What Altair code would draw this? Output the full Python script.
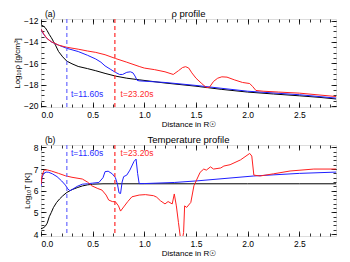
import altair as alt
import pandas as pd

FONT = "Liberation Sans"

# ---------------- density panel (a) ----------------
rho_black_x = [0, 0.02, 0.04, 0.06, 0.08, 0.1, 0.12, 0.14, 0.17, 0.21, 0.25, 0.3, 0.36, 0.45, 0.53,
               0.62, 0.72, 0.83, 0.95, 1.2, 1.5, 1.75, 2.0, 2.25, 2.5, 2.7, 2.86]
rho_black_y = [-12.4, -12.5, -12.65, -12.95, -13.3, -13.6, -13.95, -14.3, -14.9, -15.4, -15.8, -16.05,
               -16.3, -16.5, -16.7, -16.95, -17.2, -17.4, -17.55, -17.85, -18.15, -18.45, -18.7,
               -18.88, -19.05, -19.2, -19.35]

rho_blue_x = [0, 0.02, 0.05, 0.1, 0.17, 0.25, 0.36, 0.45, 0.53, 0.58, 0.62, 0.67, 0.72, 0.76, 0.79,
              0.83, 0.865, 0.89, 0.91, 0.93, 0.95, 1.2, 1.5, 2.0, 2.5, 2.86]
rho_blue_y = [-12.8, -13.2, -13.6, -14.0, -14.3, -14.6, -14.9, -15.25, -15.6, -15.9, -16.25, -16.55,
              -16.85, -17.05, -17.05, -16.85, -16.8, -16.9, -17.2, -17.6, -17.65, -17.8, -18.08,
              -18.62, -18.95, -19.27]

rho_red_x = [0, 0.03, 0.06, 0.1, 0.17, 0.25, 0.36, 0.45, 0.53, 0.62, 0.72, 0.83, 0.95, 1.0, 1.1, 1.2,
             1.28, 1.33, 1.37, 1.4, 1.43, 1.46, 1.5, 1.55, 1.6, 1.63, 1.67, 1.71, 1.75, 1.8, 1.87,
             1.95, 2.02, 2.05, 2.08, 2.15, 2.3, 2.5, 2.7, 2.86]
rho_red_y = [-12.8, -13.3, -13.7, -13.98, -14.3, -14.5, -14.68, -14.85, -14.98, -15.2, -15.55, -15.9,
             -16.3, -16.45, -16.6, -16.8, -17.05, -16.7, -16.4, -16.32, -16.45, -16.9, -17.4, -17.85,
             -18.28, -18.25, -17.7, -17.4, -17.27, -17.3, -17.55, -17.8, -17.9, -18.2, -18.55,
             -18.62, -18.7, -18.8, -18.98, -19.12]

# ---------------- temperature panel (b) ----------------
t_black_x = [0, 0.02, 0.04, 0.06, 0.08, 0.1, 0.12, 0.15, 0.18, 0.21, 0.25, 0.3, 0.35, 0.4, 0.45, 0.5,
             0.6, 1.0, 1.5, 2.0, 2.5, 2.86]
t_black_y = [4.25, 4.28, 4.35, 4.5, 4.8, 5.0, 5.22, 5.45, 5.62, 5.76, 5.92, 6.05, 6.14, 6.22, 6.27, 6.3,
             6.32, 6.32, 6.32, 6.32, 6.32, 6.32]

t_blue_x = [0, 0.01, 0.026, 0.05, 0.075, 0.11, 0.155, 0.2, 0.236, 0.26, 0.28, 0.3, 0.35, 0.4, 0.45,
            0.5, 0.56, 0.6, 0.62, 0.65, 0.69, 0.72, 0.74, 0.755, 0.77, 0.785, 0.8, 0.83, 0.86, 0.9,
            0.92, 0.935, 0.95, 1.0, 1.29, 1.5, 2.06, 2.5, 2.86]
t_blue_y = [6.2, 6.6, 6.8, 6.86, 6.85, 6.78, 6.65, 6.45, 6.26, 6.08, 6.0, 6.05, 6.2, 6.3, 6.32, 6.35,
            6.38, 6.6, 6.88, 6.9, 6.78, 6.6, 6.3, 5.9, 5.87, 6.4, 6.65, 6.72, 6.95, 7.35, 7.46, 6.8,
            6.33, 6.33, 6.38, 6.45, 6.68, 6.8, 6.86]

t_red_x = [0, 0.01, 0.03, 0.06, 0.1, 0.17, 0.236, 0.3, 0.4, 0.45, 0.49, 0.55, 0.59, 0.63, 0.655, 0.69,
           0.72, 0.75, 0.77, 0.8, 0.84, 0.88, 0.95, 1.01, 1.09, 1.12, 1.155, 1.2, 1.23, 1.27, 1.29,
           1.31, 1.33, 1.35, 1.37, 1.38, 1.39, 1.41, 1.45, 1.48, 1.51, 1.54, 1.575, 1.6, 1.64, 1.67,
           1.74, 1.77, 1.83, 1.93, 2.02, 2.04, 2.06, 2.12, 2.25, 2.41, 2.64, 2.86]
t_red_y = [6.3, 6.7, 6.95, 6.96, 6.91, 6.8, 6.69, 6.62, 6.54, 6.4, 6.23, 6.1, 6.03, 5.8, 5.57, 5.5,
           5.49, 5.3, 5.06, 5.25, 5.5, 5.72, 5.8, 5.82, 5.77, 5.7, 5.54, 5.39, 5.5, 5.39, 5.85, 5.3,
           4.54, 3.8, 3.8, 4.07, 5.3, 5.23, 5.46, 6.23, 6.54, 6.85, 7.0, 6.95, 7.1, 7.0, 7.05, 7.14,
           7.2, 7.42, 7.72, 7.6, 6.72, 6.68, 6.78, 6.91, 7.0, 7.0]

# marker lines and labels
time_x = [0.25, 0.715]
time_labels = ["t=11.60s", "t=23.20s"]
time_label_x = [0.29, 0.77]
time_colors = ["#6a6aff", "#ff2a2a"]
label_colors = ["#2a2aff", "#ff2a2a"]

x_major = [0.0, 0.5, 1.0, 1.5, 2.0, 2.5]
x_minor = [round(i * 0.1, 1) for i in range(1, 29)]
rho_major = [-20, -18, -16, -14, -12]
rho_minor = [-20 + 0.5 * i for i in range(0, 17)]
t_major = [4, 5, 6, 7, 8]
t_minor = [round(4 + 0.2 * i, 1) for i in range(0, 21)]

XDOM = [0, 2.855]
RHO_DOM = [-20.1, -11.85]
T_DOM = [3.91, 8.11]

BLACK = "#000000"
BLUE = "#1f1fff"
RED = "#ff2020"


def df(xs, ys):
    return pd.DataFrame({"x": xs, "y": ys})


def ax(orient, values, size, labels=False, title=None, fmt=None, lpad=3):
    kw = dict(orient=orient, values=values, tickSize=size, offset=-size, domain=False,
              grid=False, labels=labels, tickColor="black", tickWidth=0.8,
              labelFont=FONT, labelFontSize=8.5, labelColor="black", labelPadding=lpad,
              titleFont=FONT, titleFontSize=8, titleFontWeight="normal", titleColor="black",
              titlePadding=2)
    kw["title"] = title
    if fmt is not None:
        kw["format"] = fmt
    return alt.Axis(**kw)


def panel(black, blue, red, ydom, ymajor, yminor, ytitle, yfmt, title, tag, label_y, w, h):
    xs = alt.Scale(domain=XDOM, nice=False, zero=False)
    ysc = alt.Scale(domain=ydom, nice=False, zero=False)

    l_black = alt.Chart(black).mark_line(color=BLACK, strokeWidth=1, clip=True).encode(
        x=alt.X("x:Q", scale=xs, axis=ax("bottom", x_major, 5, True, "Distance in R☉", ".1f")),
        y=alt.Y("y:Q", scale=ysc, axis=ax("left", ymajor, 5, True, ytitle, yfmt)),
    )
    l_blue = alt.Chart(blue).mark_line(color=BLUE, strokeWidth=1, clip=True).encode(
        x=alt.X("x:Q", scale=xs, axis=ax("bottom", x_minor, 3)),
        y=alt.Y("y:Q", scale=ysc, axis=ax("left", yminor, 3)),
    )
    l_red = alt.Chart(red).mark_line(color=RED, strokeWidth=1, clip=True).encode(
        x=alt.X("x:Q", scale=xs, axis=ax("top", x_major, 5)),
        y=alt.Y("y:Q", scale=ysc, axis=ax("right", ymajor, 5)),
    )
    mk = pd.DataFrame({"x": time_x, "c": time_colors})
    rules = alt.Chart(mk).mark_rule(strokeDash=[4, 3], strokeWidth=1.2).encode(
        x=alt.X("x:Q", scale=xs, axis=None),
        color=alt.Color("c:N", scale=None),
    )
    lab = pd.DataFrame({"x": time_label_x, "y": [label_y, label_y], "t": time_labels,
                        "c": label_colors})
    texts = alt.Chart(lab).mark_text(align="left", baseline="middle", font=FONT,
                                     fontSize=8.5).encode(
        x=alt.X("x:Q", scale=xs, axis=ax("top", x_minor, 3)),
        y=alt.Y("y:Q", scale=ysc, axis=ax("right", yminor, 3)),
        text="t:N",
        color=alt.Color("c:N", scale=None),
    )
    tagc = alt.Chart(pd.DataFrame({"t": [tag]})).mark_text(
        align="left", baseline="alphabetic", font=FONT, fontSize=8.5, color="black").encode(
        x=alt.value(4), y=alt.value(-2), text="t:N")
    titc = alt.Chart(pd.DataFrame({"t": [title]})).mark_text(
        align="center", baseline="alphabetic", font=FONT, fontSize=9.5, color="black").encode(
        x=alt.value(w / 2), y=alt.value(-2), text="t:N")
    return alt.layer(l_black, l_blue, l_red, rules, texts, tagc, titc).resolve_axis(
        x="independent", y="independent").properties(width=w, height=h)


top = panel(df(rho_black_x, rho_black_y), df(rho_blue_x, rho_blue_y), df(rho_red_x, rho_red_y),
            RHO_DOM, rho_major, rho_minor, "Log₁₀ρ [g/cm³]", "d", "ρ profile", "(a)", -18.9,
            295, 88)
bot = panel(df(t_black_x, t_black_y), df(t_blue_x, t_blue_y), df(t_red_x, t_red_y),
            T_DOM, t_major, t_minor, "Log₁₀T [K]", "d", "Temperature profile", "(b)", 7.72,
            295, 91)

chart = alt.vconcat(top, bot, spacing=5).properties(
    padding={"left": 5, "top": 0, "right": 2, "bottom": 0}
).configure_view(stroke="black", strokeWidth=1).configure(background="white")

chart.save("out.html", embed_options={"renderer": "svg", "actions": False})
